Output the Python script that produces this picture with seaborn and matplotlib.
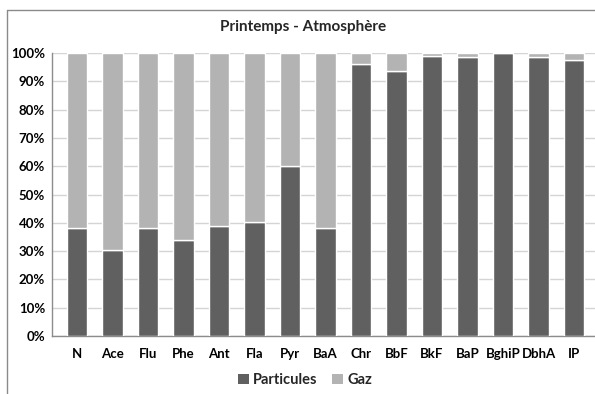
import matplotlib
matplotlib.use("Agg")
import matplotlib.pyplot as plt
import seaborn as sns
import pandas as pd
from matplotlib.lines import Line2D
from matplotlib.patches import Patch

categories = ["N", "Ace", "Flu", "Phe", "Ant", "Fla", "Pyr", "BaA", "Chr", "BbF",
              "BkF", "BaP", "BghiP", "DbhA", "IP"]
particules = [38.0, 30.4, 38.3, 33.8, 38.8, 40.2, 60.0, 38.0, 96.0, 93.8,
              99.1, 98.7, 99.9, 98.7, 97.7]
gaz = [62.0, 69.6, 61.7, 66.2, 61.2, 59.8, 40.0, 62.0, 4.0, 6.2,
       0.9, 1.3, 0.1, 1.3, 2.3]
yticks = [0, 10, 20, 30, 40, 50, 60, 70, 80, 90, 100]
ytick_labels = [f"{v}%" for v in yticks]

sns.set_theme(style="white")
plt.rcParams["font.family"] = ["Lato", "DejaVu Sans"]

df = pd.DataFrame({"cat": categories, "Particules": particules, "Gaz": gaz})

fig = plt.figure(figsize=(5.95, 3.94), dpi=100)
ax = fig.add_axes([52 / 595, 1 - 336 / 394, 543 / 595, 283 / 394])

dark = "#606060"
light = "#b3b3b3"

sns.barplot(data=df, x="cat", y="Particules", color=dark, saturation=1,
            width=0.57, ax=ax, zorder=3)
sns.barplot(data=df, x="cat", y="Gaz", color=light, saturation=1,
            width=0.57, ax=ax, bottom=df["Particules"], zorder=3)

ax.set_ylim(0, 100)
ax.set_xlim(-0.704, 14.59)
ax.set_yticks(yticks)
ax.set_yticklabels(ytick_labels)
ax.set_xlabel("")
ax.set_ylabel("")
ax.yaxis.grid(True, color="#d4d4d4", linewidth=1.0, zorder=0)
ax.set_axisbelow(True)
for s in ["top", "right"]:
    ax.spines[s].set_visible(False)
for s in ["left", "bottom"]:
    ax.spines[s].set_color("#8c8c8c")
    ax.spines[s].set_linewidth(1.0)
ax.tick_params(axis="both", length=0, labelsize=9.5, colors="black")
ax.tick_params(axis="x", pad=9)
ax.tick_params(axis="y", pad=5)
for lab in ax.get_xticklabels() + ax.get_yticklabels():
    lab.set_fontweight("bold")

fig.text(303 / 595, 1 - 27 / 394, "Printemps - Atmosphère", ha="center", va="center",
         fontsize=11, fontweight="bold")

handles = [Patch(facecolor=dark, edgecolor="none"), Patch(facecolor=light, edgecolor="none")]
fig.legend(handles, ["Particules", "Gaz"], loc="center", bbox_to_anchor=(305 / 595, 1 - 380 / 394),
           ncol=2, frameon=False, prop={"weight": "bold", "size": 10.5},
           handlelength=0.75, handleheight=0.75, handletextpad=0.3, columnspacing=1.0)

fig.add_artist(Line2D([7 / 595, 7 / 595], [0, 1 - 10 / 394], transform=fig.transFigure,
                      color="#8a8a8a", linewidth=1.0))
fig.add_artist(Line2D([7 / 595, 1], [1 - 10 / 394, 1 - 10 / 394], transform=fig.transFigure,
                      color="#8a8a8a", linewidth=1.0))

fig.savefig("out.png", dpi=100)
